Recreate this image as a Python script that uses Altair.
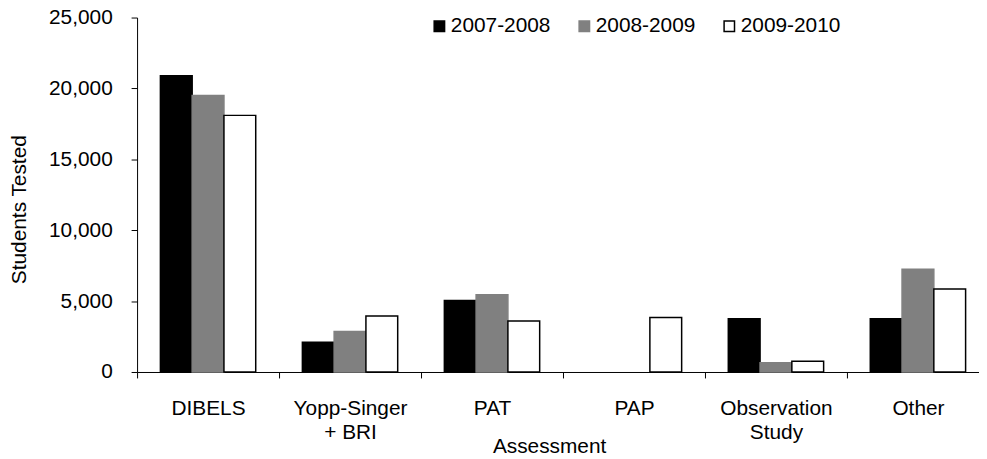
import altair as alt
import pandas as pd

categories = ["DIBELS", "Yopp-Singer + BRI", "PAT", "PAP", "Observation Study", "Other"]
years = ["2007-2008", "2008-2009", "2009-2010"]
v_2007_2008 = [20900, 2100, 5050, 0, 3750, 3750]
v_2008_2009 = [19500, 2850, 5450, 0, 650, 7250]
v_2009_2010 = [18100, 3950, 3600, 3850, 750, 5850]
y_ticks = [0, 5000, 10000, 15000, 20000, 25000]

rows = []
for yr, vals in zip(years, [v_2007_2008, v_2008_2009, v_2009_2010]):
    for c, v in zip(categories, vals):
        rows.append({"Assessment": c, "Year": yr, "Students": v})
df = pd.DataFrame(rows)

FONT = "Liberation Sans"
FS = 21

label_expr = ("datum.label == 'Yopp-Singer + BRI' ? ['Yopp-Singer', '+ BRI'] : "
              "datum.label == 'Observation Study' ? ['Observation', 'Study'] : datum.label")

legend_kw = dict(title=None, orient="none", direction="horizontal",
                 legendX=294, legendY=-2, symbolType="square",
                 symbolSize=110, symbolStrokeWidth=1.5,
                 labelFontSize=FS, labelFont=FONT, labelColor="black",
                 labelOffset=1, columnPadding=23)

chart = alt.Chart(df).transform_filter(
    "datum.Students > 0"
).mark_bar(strokeWidth=1.5).encode(
    x=alt.X("Assessment:N", sort=categories,
            scale=alt.Scale(domain=categories, paddingInner=0, paddingOuter=0),
            axis=alt.Axis(title="Assessment", labelAngle=0, labelExpr=label_expr,
                          tickBand="extent", tickSize=6, tickColor="black",
                          domainColor="black", labelFontSize=FS, labelFont=FONT,
                          labelColor="black", labelLineHeight=24, labelPadding=20,
                          titleFontSize=FS, titleFont=FONT, titleFontWeight="normal",
                          titleColor="black", titleX=415, titleY=81,
                          titleBaseline="alphabetic", titleAlign="center")),
    xOffset=alt.XOffset("Year:N", sort=years,
                        scale=alt.Scale(domain=years, paddingInner=0, paddingOuter=0.734)),
    y=alt.Y("Students:Q", stack=None,
            scale=alt.Scale(domain=[0, 25000], nice=False),
            axis=alt.Axis(title="Students Tested", values=y_ticks, format=",.0f",
                          grid=False, tickSize=6, tickColor="black",
                          domainColor="black", labelFontSize=FS, labelFont=FONT,
                          labelColor="black", labelPadding=19,
                          titleFontSize=FS, titleFont=FONT, titleFontWeight="normal",
                          titleColor="black", titleX=-118, titleY=193,
                          titleAlign="center", titleBaseline="middle", titleAngle=270)),
    fill=alt.Fill("Year:N", sort=years,
                  scale=alt.Scale(domain=years, range=["#000000", "#808080", "#ffffff"]),
                  legend=alt.Legend(**legend_kw)),
    stroke=alt.Stroke("Year:N", sort=years,
                      scale=alt.Scale(domain=years, range=["#000000", "#808080", "#000000"]),
                      legend=alt.Legend(**legend_kw)),
).properties(
    width=858,
    height=357,
    autosize=alt.AutoSizeParams(type="none"),
    padding={"left": 130, "top": 8, "right": -10, "bottom": 84},
    background="white",
).configure_view(stroke=None)

chart.save("out.html", embed_options={"renderer": "svg", "actions": False})
